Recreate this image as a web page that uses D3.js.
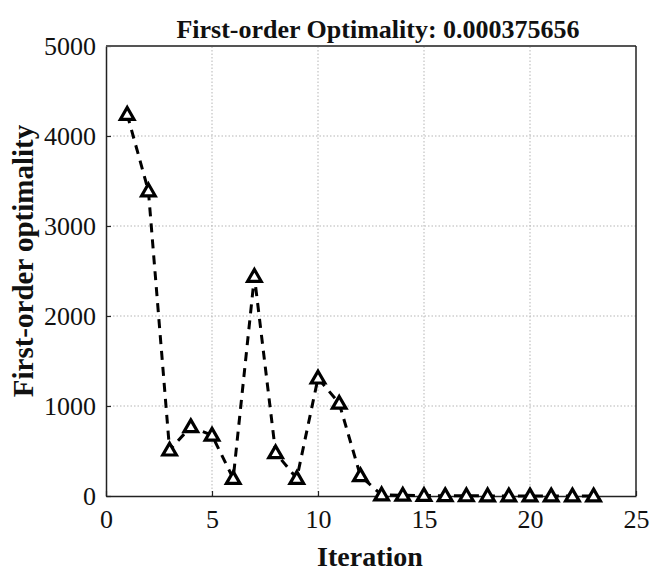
<!DOCTYPE html>
<html>
<head>
<meta charset="utf-8">
<script src="https://cdn.jsdelivr.net/npm/d3@7"></script>
<style>
  html, body { margin: 0; padding: 0; background: #fff; }
  svg { display: block; }
</style>
</head>
<body>
<svg id="chart" width="651" height="572"></svg>
<script>
// Optimizer progress: first-order optimality per iteration
const iterations = [1,2,3,4,5,6,7,8,9,10,11,12,13,14,15,16,17,18,19,20,21,22,23];
const optimality = [4240, 3390, 510, 770, 675, 195, 2440, 480, 195, 1310, 1030, 225,
                    12, 8, 5, 3, 2, 1, 0.5, 0.2, 0.05, 0.01, 0.000375656];
const xTicks = [0, 5, 10, 15, 20, 25];
const yTicks = [0, 1000, 2000, 3000, 4000, 5000];
const titleText = "First-order Optimality: 0.000375656";
const xLabel = "Iteration";
const yLabel = "First-order optimality";

const FONT = "'Liberation Serif', 'Times New Roman', serif";
const svg = d3.select("#chart");
const margin = { left: 106, right: 15, top: 46, bottom: 76 };
const W = 651, H = 572;

const x = d3.scaleLinear().domain([0, 25]).range([margin.left, W - margin.right]);
const y = d3.scaleLinear().domain([0, 5000]).range([H - margin.bottom, margin.top]);

// grid
const grid = svg.append("g").attr("stroke", "#b5b5b5").attr("stroke-width", 1)
  .attr("stroke-dasharray", "1.5,2");
grid.selectAll("line.vx").data(xTicks.slice(1, -1)).join("line")
  .attr("x1", d => x(d)).attr("x2", d => x(d))
  .attr("y1", y(0)).attr("y2", y(5000));
grid.selectAll("line.hy").data(yTicks.slice(1, -1)).join("line")
  .attr("x1", x(0)).attr("x2", x(25))
  .attr("y1", d => y(d)).attr("y2", d => y(d));

// axes (ticks point inward)
const xAxis = d3.axisBottom(x).tickValues(xTicks).tickFormat(d3.format("d"))
  .tickSizeInner(-5).tickSizeOuter(0).tickPadding(14);
const yAxis = d3.axisLeft(y).tickValues(yTicks).tickFormat(d3.format("d"))
  .tickSizeInner(-5).tickSizeOuter(0).tickPadding(10);

const gx = svg.append("g").attr("transform", `translate(0,${y(0)})`).call(xAxis);
const gy = svg.append("g").attr("transform", `translate(${x(0)},0)`).call(yAxis);
[gx, gy].forEach(g => {
  g.attr("font-family", FONT).attr("font-size", 26);
  g.select(".domain").attr("stroke", "#222").attr("stroke-width", 1.5);
  g.selectAll(".tick line").attr("stroke", "#222").attr("stroke-width", 1.2);
  g.selectAll(".tick text").attr("fill", "#111");
});
gx.selectAll(".tick text").attr("dy", "0.71em");

// box top/right
svg.append("line").attr("x1", x(0)).attr("x2", x(25)).attr("y1", y(5000)).attr("y2", y(5000))
  .attr("stroke", "#555").attr("stroke-width", 2);
svg.append("line").attr("x1", x(25)).attr("x2", x(25)).attr("y1", y(5000)).attr("y2", y(0))
  .attr("stroke", "#222").attr("stroke-width", 1.5);

// data
const pts = iterations.map((d, i) => ({ it: d, v: optimality[i] }));
const line = d3.line().x(d => x(d.it)).y(d => y(d.v));
svg.append("path").datum(pts).attr("d", line)
  .attr("fill", "none").attr("stroke", "#000").attr("stroke-width", 3)
  .attr("stroke-dasharray", "9,7");

const tri = d3.symbol().type(d3.symbolTriangle).size(80);
svg.selectAll("path.mk").data(pts).join("path")
  .attr("class", "mk")
  .attr("d", tri)
  .attr("transform", d => `translate(${x(d.it)},${y(d.v) + 1})`)
  .attr("fill", "#fff").attr("stroke", "#000").attr("stroke-width", 3.2);

// titles
const labels = svg.append("g").attr("font-family", FONT).attr("font-weight", "bold")
  .attr("fill", "#111").attr("text-anchor", "middle");
labels.append("text").attr("x", 378).attr("y", 38)
  .attr("font-size", 26).text(titleText);
labels.append("text").attr("x", 370).attr("y", 566)
  .attr("font-size", 28).text(xLabel);
labels.append("text").attr("transform", `translate(33,261) rotate(-90)`)
  .attr("font-size", 29).text(yLabel);
</script>
</body>
</html>
